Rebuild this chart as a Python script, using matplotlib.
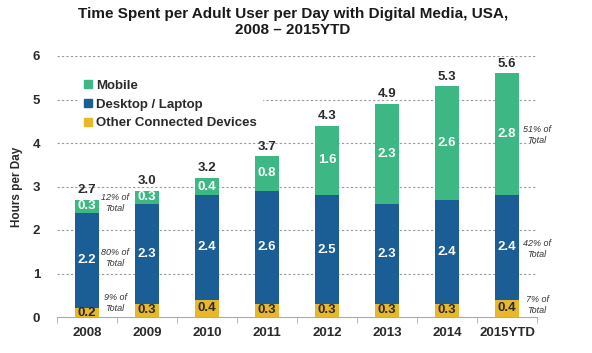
import numpy as np
import matplotlib.pyplot as plt
from matplotlib.lines import Line2D

plt.rcParams['font.family'] = ['Liberation Sans', 'DejaVu Sans']

# --- data ---
years = ["2008", "2009", "2010", "2011", "2012", "2013", "2014", "2015YTD"]
other = [0.2, 0.3, 0.4, 0.3, 0.3, 0.3, 0.3, 0.4]
desktop = [2.2, 2.3, 2.4, 2.6, 2.5, 2.3, 2.4, 2.4]
mobile = [0.3, 0.3, 0.4, 0.8, 1.6, 2.3, 2.6, 2.8]
totals = [2.7, 3.0, 3.2, 3.7, 4.3, 4.9, 5.3, 5.6]

series_names = ["Mobile", "Desktop / Laptop", "Other Connected Devices"]
c_mobile = "#3db884"
c_desktop = "#1b5e96"
c_other = "#e8b82a"

# share notes (first and last bar)
notes_left = ["12% of\nTotal", "80% of\nTotal", "9% of\nTotal"]
notes_right = ["51% of\nTotal", "42% of\nTotal", "7% of\nTotal"]

fig = plt.figure(figsize=(5.92, 3.53), dpi=100, facecolor="white")
ax = fig.add_axes([57/592, 36/353, 480/592, 261/353])

x = np.arange(len(years))
w = 0.4
other_a = np.array(other)
desk_a = np.array(desktop)
mob_a = np.array(mobile)

ax.bar(x, other_a, w, color=c_other, zorder=3)
ax.bar(x, desk_a, w, bottom=other_a, color=c_desktop, zorder=3)
ax.bar(x, mob_a, w, bottom=other_a + desk_a, color=c_mobile, zorder=3)

lab = dict(ha="center", va="center", fontsize=9.5, fontweight="bold", zorder=4)
for i in range(len(years)):
    ax.text(x[i], other[i] / 2, "{:.1f}".format(other[i]), color="#2a2a2a", **lab)
    ax.text(x[i], other[i] + desktop[i] / 2, "{:.1f}".format(desktop[i]), color="white", **lab)
    ax.text(x[i], other[i] + desktop[i] + mobile[i] / 2, "{:.1f}".format(mobile[i]), color="white", **lab)
    ax.text(x[i], other[i] + desktop[i] + mobile[i] + 0.08, "{:.1f}".format(totals[i]),
            ha="center", va="bottom", fontsize=9.5, fontweight="bold", color="#2a2a2a", zorder=4)

note = dict(ha="center", va="center", fontsize=6.5, style="italic", color="#333333",
            linespacing=1.2, zorder=4)
left_y = [2.62, 1.36, 0.32]
right_y = [4.18, 1.56, 0.28]
for t, yy in zip(notes_left, left_y):
    ax.text(0.47, yy, t, **note)
for t, yy in zip(notes_right, right_y):
    ax.text(7.5, yy, t, clip_on=False, **note)

ax.set_xlim(-0.5, 7.5)
ax.set_ylim(0, 6)
ax.set_yticks(range(0, 7))
ax.set_xticks(x)
ax.set_xticklabels(years)
for t in ax.get_xticklabels() + ax.get_yticklabels():
    t.set_fontweight("bold")
    t.set_fontsize(9.5)
    t.set_color("#2a2a2a")
ax.tick_params(axis="x", length=0, pad=7)
ax.tick_params(axis="y", length=0, pad=12)
ax.set_xticks(np.arange(-0.5, 8.0, 1.0), minor=True)
ax.tick_params(axis="x", which="minor", length=4, color="#aaaaaa", direction="out")

for yv in range(1, 7):
    ax.axhline(yv, color="#999999", lw=0.8, ls=(0, (2, 2)), zorder=1)

for s in ["top", "right", "left"]:
    ax.spines[s].set_visible(False)
ax.spines["bottom"].set_color("#aaaaaa")

ax.set_ylabel("Hours per Day", fontsize=8.5, fontweight="bold", color="#2a2a2a", labelpad=7)

handles = [Line2D([], [], marker="s", ls="", color=c, markersize=6)
           for c in [c_mobile, c_desktop, c_other]]
leg = ax.legend(handles, series_names, loc="upper left", bbox_to_anchor=(0.045, 0.93),
                frameon=True, fontsize=9.5, handlelength=0.6, handletextpad=0.3,
                labelspacing=0.5, borderaxespad=0)
leg.get_frame().set_edgecolor("white")
leg.get_frame().set_facecolor("white")
leg.get_frame().set_alpha(1)
leg.set_zorder(5)
for t in leg.get_texts():
    t.set_fontweight("bold")
    t.set_color("#2a2a2a")

fig.text(0.495, 0.98, "Time Spent per Adult User per Day with Digital Media, USA,\n2008 \u2013 2015YTD",
         ha="center", va="top", fontsize=11, fontweight="bold", color="#1a1a1a", linespacing=1.2)

plt.savefig("out.png", dpi=100)
